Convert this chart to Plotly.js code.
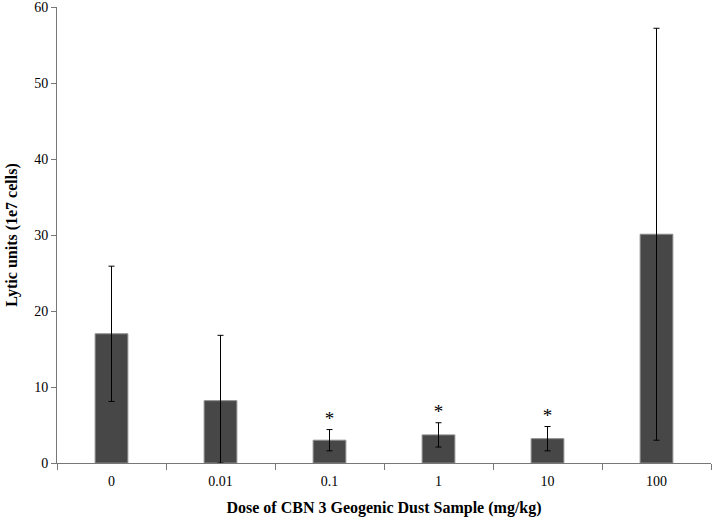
<!DOCTYPE html>
<html>
<head>
<meta charset="utf-8">
<script src="https://cdn.plot.ly/plotly-3.0.1.min.js"></script>
<style>
  html, body { margin: 0; padding: 0; background: #fff; }
  #chart { width: 714px; height: 517px; }
</style>
</head>
<body>
<div id="chart"></div>
<script>
// dose groups and measured lytic units
var doses = ['0', '0.01', '0.1', '1', '10', '100'];
var lytic = [17.0, 8.2, 3.0, 3.7, 3.2, 30.1];
var errUp = [8.9, 8.6, 1.4, 1.6, 1.6, 27.1];
var errDown = [8.9, 8.2, 1.4, 1.6, 1.6, 27.1];
var marks = ['', '', '*', '*', '*', ''];

var serif = 'Liberation Serif, Times New Roman, serif';

var bars = {
  x: doses,
  y: lytic,
  type: 'bar',
  marker: {color: '#474747', line: {color: '#8a8a8a', width: 1}},
  error_y: {
    type: 'data',
    symmetric: false,
    array: errUp,
    arrayminus: errDown,
    color: '#000',
    thickness: 1,
    width: 3
  },
  hoverinfo: 'x+y'
};

// significance stars sit just above the upper whisker
var stars = {
  x: doses,
  y: lytic.map(function(v, i) { return v + errUp[i]; }),
  text: marks,
  mode: 'text',
  type: 'scatter',
  textposition: 'top center',
  textfont: {family: serif, size: 19, color: '#000'},
  hoverinfo: 'skip'
};

var layout = {
  width: 714,
  height: 517,
  margin: {l: 57, r: 3, t: 7, b: 54},
  paper_bgcolor: '#fff',
  plot_bgcolor: '#fff',
  showlegend: false,
  bargap: 0.7,
  font: {family: serif, size: 14, color: '#000'},
  xaxis: {
    type: 'category',
    range: [-0.5, 5.5],
    showline: true,
    linecolor: '#777',
    linewidth: 1,
    ticks: 'outside',
    tickson: 'boundaries',
    ticklen: 6,
    tickcolor: '#777',
    ticklabelstandoff: 5,
    showgrid: false,
    zeroline: false,
    tickfont: {family: serif, size: 14},
    title: {
      text: '<b>Dose of CBN 3 Geogenic Dust Sample (mg/kg)</b>',
      font: {family: serif, size: 16},
      standoff: 14
    }
  },
  yaxis: {
    range: [0, 60],
    dtick: 10,
    showline: true,
    linecolor: '#777',
    linewidth: 1,
    ticks: 'outside',
    ticklen: 5,
    tickcolor: '#777',
    ticklabeloverflow: 'allow',
    showgrid: false,
    zeroline: false,
    tickfont: {family: serif, size: 14},
    title: {
      text: '<b>Lytic units (1e7 cells)</b>',
      font: {family: serif, size: 16},
      standoff: 12
    }
  }
};

Plotly.newPlot('chart', [bars, stars], layout, {displayModeBar: false});
</script>
</body>
</html>
